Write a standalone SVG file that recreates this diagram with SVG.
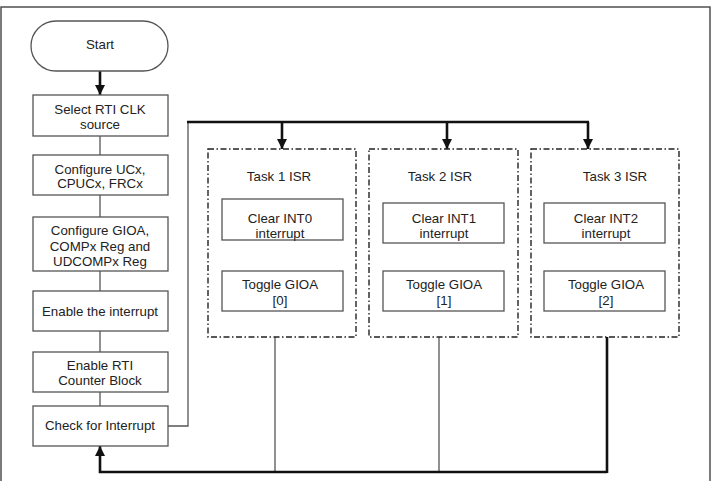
<svg xmlns="http://www.w3.org/2000/svg" width="716" height="481" viewBox="0 0 716 481">
<defs>
<style>
.box{fill:#fff;stroke:#555;stroke-width:1.3}
.dash{fill:none;stroke:#222;stroke-width:1.4;stroke-dasharray:6 2.5 1.5 2.5}
.t{font-family:"Liberation Sans",Arial,sans-serif;font-size:13.3px;fill:#222;text-anchor:middle}
.thin{fill:none;stroke:#555;stroke-width:1.3}
.thick{fill:none;stroke:#111;stroke-width:2.6}
</style>
<marker id="ah" viewBox="0 0 10 10" refX="10" refY="5" markerWidth="4" markerHeight="4" orient="auto" markerUnits="strokeWidth">
<path d="M0,0 L10,5 L0,10 z" fill="#111"/>
</marker>
</defs>
<rect x="0" y="0" width="716" height="481" fill="#fff"/>
<rect x="1" y="7" width="709" height="480" fill="none" stroke="#444" stroke-width="1.4"/>

<g id="connectors">
<line class="thick" x1="100" y1="71" x2="100" y2="95" marker-end="url(#ah)"/>
<line class="thin" x1="100" y1="136" x2="100" y2="155"/>
<line class="thin" x1="100" y1="195" x2="100" y2="217"/>
<line class="thin" x1="100" y1="271" x2="100" y2="291"/>
<line class="thin" x1="100" y1="331" x2="100" y2="352"/>
<line class="thin" x1="100" y1="392" x2="100" y2="406"/>
<polyline class="thin" points="168,426 188,426 188,122"/>
<line class="thick" x1="187" y1="122" x2="589" y2="122"/>
<line class="thick" x1="282" y1="122" x2="282" y2="149" marker-end="url(#ah)"/>
<line class="thick" x1="447" y1="122" x2="447" y2="149" marker-end="url(#ah)"/>
<line class="thick" x1="588" y1="122" x2="588" y2="149" marker-end="url(#ah)"/>
<line class="thin" x1="275" y1="337" x2="275" y2="472"/>
<line class="thin" x1="439" y1="337" x2="439" y2="472"/>
<line class="thick" x1="607" y1="337" x2="607" y2="473"/>
<polyline class="thick" points="607,472 100,472 100,446" marker-end="url(#ah)"/>
</g>

<g id="start">
<rect class="box" x="31" y="21" width="137" height="50" rx="25"/>
<text class="t" x="100" y="49">Start</text>
</g>
<g id="select">
<rect class="box" x="33" y="95" width="135" height="41"/>
<text class="t" x="100" y="114">Select RTI CLK</text>
<text class="t" x="100" y="129">source</text>
</g>
<g id="configure-uc">
<rect class="box" x="33" y="155" width="135" height="40"/>
<text class="t" x="100" y="174">Configure UCx,</text>
<text class="t" x="100" y="188">CPUCx, FRCx</text>
</g>
<g id="configure-gioa">
<rect class="box" x="33" y="217" width="135" height="54"/>
<text class="t" x="100" y="235">Configure GIOA,</text>
<text class="t" x="100" y="251">COMPx Reg and</text>
<text class="t" x="100" y="266">UDCOMPx Reg</text>
</g>
<g id="enable-int">
<rect class="box" x="33" y="291" width="135" height="40"/>
<text class="t" x="100" y="316">Enable the interrupt</text>
</g>
<g id="enable-rti">
<rect class="box" x="33" y="352" width="135" height="40"/>
<text class="t" x="100" y="370">Enable RTI</text>
<text class="t" x="100" y="385">Counter Block</text>
</g>
<g id="check">
<rect class="box" x="33" y="406" width="135" height="40"/>
<text class="t" x="100" y="430">Check for Interrupt</text>
</g>

<g id="task1">
<rect class="dash" x="208" y="149" width="148" height="188"/>
<text class="t" x="279" y="181">Task 1 ISR</text>
<rect class="box" x="222" y="199" width="121" height="41"/>
<text class="t" x="280" y="223">Clear INT0</text>
<text class="t" x="280" y="238">interrupt</text>
<rect class="box" x="222" y="271" width="121" height="40"/>
<text class="t" x="280" y="289">Toggle GIOA</text>
<text class="t" x="280" y="305">[0]</text>
</g>
<g id="task2">
<rect class="dash" x="369" y="149" width="149" height="188"/>
<text class="t" x="440" y="181">Task 2 ISR</text>
<rect class="box" x="383" y="203" width="121" height="40"/>
<text class="t" x="444" y="223">Clear INT1</text>
<text class="t" x="444" y="238">interrupt</text>
<rect class="box" x="383" y="271" width="121" height="40"/>
<text class="t" x="444" y="289">Toggle GIOA</text>
<text class="t" x="444" y="305">[1]</text>
</g>
<g id="task3">
<rect class="dash" x="531" y="149" width="148" height="188"/>
<text class="t" x="615" y="181">Task 3 ISR</text>
<rect class="box" x="544" y="203" width="121" height="40"/>
<text class="t" x="606" y="223">Clear INT2</text>
<text class="t" x="606" y="238">interrupt</text>
<rect class="box" x="544" y="271" width="121" height="40"/>
<text class="t" x="606" y="289">Toggle GIOA</text>
<text class="t" x="606" y="305">[2]</text>
</g>
</svg>
